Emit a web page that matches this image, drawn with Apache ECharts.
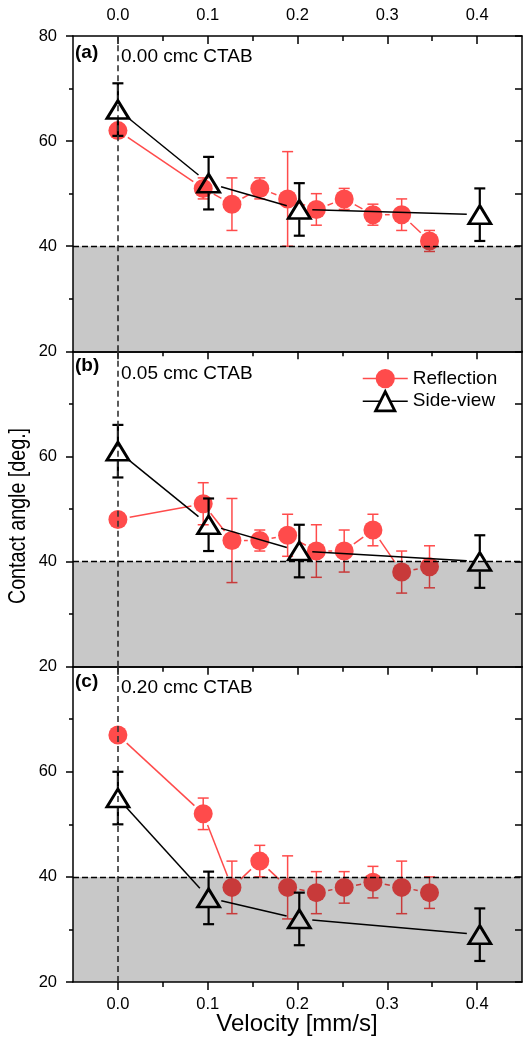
<!DOCTYPE html>
<html><head><meta charset="utf-8">
<script src="https://cdn.jsdelivr.net/npm/echarts@6/dist/echarts.min.js"></script>
<style>html,body{margin:0;padding:0;background:#fff}#c{width:524px;height:1037px}</style>
</head><body><div id="c"></div><script>
// ---- data ----
const panelLabels = ['(a)', '(b)', '(c)'];
const panelTitles = ['0.00 cmc CTAB', '0.05 cmc CTAB', '0.20 cmc CTAB'];
const xTickValues = [0.0, 0.1, 0.2, 0.3, 0.4];
const xMinorTickValues = [0.05, 0.15, 0.25, 0.35];
const xTitle = 'Velocity [mm/s]';
const yTitle = 'Contact angle [deg.]';
const thresholdAngle = 40;
const shadedBand = [20, 40];

const velocityReflection = [0, 0.095, 0.127, 0.158, 0.189, 0.221, 0.252, 0.284, 0.316, 0.347];
const velocitySideView = [0, 0.101, 0.202, 0.403];

const reflectionA = [62, 51, 48, 51, 49, 47, 49, 46, 46, 41];
const reflectionErrA = [0, 2, 5, 2, 9, 3, 2, 2, 3, 2];
const sideViewA = [66, 52, 47, 46];
const sideViewErrA = [5, 5, 5, 5];

const reflectionB = [48, 51, 44, 44, 45, 42, 42, 46, 38, 39];
const reflectionErrB = [0, 4, 8, 2, 4, 5, 4, 3, 4, 4];
const sideViewB = [61, 47, 42, 40];
const sideViewErrB = [5, 5, 5, 5];

const reflectionC = [67, 52, 38, 43, 38, 37, 38, 39, 38, 37];
const reflectionErrC = [0, 3, 5, 3, 6, 4, 3, 3, 5, 3];
const sideViewC = [55, 36, 32, 29];
const sideViewErrC = [5, 5, 5, 5];

const reflectionPanels = [reflectionA, reflectionB, reflectionC];
const reflectionErrPanels = [reflectionErrA, reflectionErrB, reflectionErrC];
const sideViewPanels = [sideViewA, sideViewB, sideViewC];
const sideViewErrPanels = [sideViewErrA, sideViewErrB, sideViewErrC];

// ---- layout / style ----
const RED = '#ff4b4b';
const FONT = '"Liberation Sans", Arial, sans-serif';
const gridLeft = 73, gridWidth = 449, gridTop0 = 36, gridH = 315.33;
const labelYs = [[52.5, 56.7], [365.6, 373.7], [681.7, 687.5]];

function zip3(xs, ys, es) { return xs.map((x, k) => [x, ys[k], es[k]]); }

function errRender(color, lw, capHalf, gapHalf) {
  return function (params, api) {
    const x = api.value(0), y = api.value(1), e = api.value(2);
    const kids = [];
    if (e) {
      const c = api.coord([x, y]);
      const hi = api.coord([x, y + e]);
      const lo = api.coord([x, y - e]);
      const st = { stroke: color, lineWidth: lw, fill: null };
      if (c[1] - gapHalf > hi[1]) kids.push({ type: 'line', shape: { x1: c[0], y1: hi[1], x2: c[0], y2: c[1] - gapHalf }, style: st });
      if (c[1] + gapHalf < lo[1]) kids.push({ type: 'line', shape: { x1: c[0], y1: c[1] + gapHalf, x2: c[0], y2: lo[1] }, style: st });
      kids.push({ type: 'line', shape: { x1: c[0] - capHalf, y1: hi[1], x2: c[0] + capHalf, y2: hi[1] }, style: st });
      kids.push({ type: 'line', shape: { x1: c[0] - capHalf, y1: lo[1], x2: c[0] + capHalf, y2: lo[1] }, style: st });
    }
    return { type: 'group', children: kids };
  };
}

// connecting segments with a gap around each symbol (Origin style)
function segRender(color, lw, gap) {
  return function (params, api) {
    const k = params.dataIndexInside;
    if (k >= params.dataInsideLength - 1) return { type: 'group', children: [] };
    const p0 = api.coord([api.value(0, k), api.value(1, k)]);
    const p1 = api.coord([api.value(0, k + 1), api.value(1, k + 1)]);
    const dx = p1[0] - p0[0], dy = p1[1] - p0[1];
    const len = Math.sqrt(dx * dx + dy * dy);
    if (len <= 2 * gap + 1) return { type: 'group', children: [] };
    const ux = dx / len, uy = dy / len;
    return { type: 'line', shape: { x1: p0[0] + ux * gap, y1: p0[1] + uy * gap, x2: p1[0] - ux * gap, y2: p1[1] - uy * gap },
      style: { stroke: color, lineWidth: lw, fill: null } };
  };
}

const grids = [], xAxes = [], yAxes = [], series = [];
const axisLineStyle = { color: '#000', width: 1.5 };

for (let i = 0; i < 3; i++) {
  grids.push({ left: gridLeft, width: gridWidth, top: gridTop0 + i * gridH, height: gridH });
  const isBottom = i === 2, isTop = i === 0;
  const base = { type: 'value', gridIndex: i, min: -0.05, max: 0.45, splitLine: { show: false }, axisLine: { show: true, onZero: false, lineStyle: axisLineStyle } };
  xAxes.push(Object.assign({}, base, {
    position: 'bottom',
    axisTick: { show: isBottom, inside: false, length: 8, customValues: xTickValues, lineStyle: axisLineStyle },
    axisLabel: { show: isBottom, customValues: xTickValues, formatter: v => v.toFixed(1), fontSize: 16.5, fontFamily: FONT, color: '#000', margin: 14 }
  }));
  xAxes.push(Object.assign({}, base, {
    position: 'bottom', axisLine: { show: false },
    axisTick: { show: isBottom, inside: false, length: 5, customValues: xMinorTickValues, lineStyle: axisLineStyle },
    axisLabel: { show: false }
  }));
  xAxes.push(Object.assign({}, base, {
    position: 'top',
    axisTick: { show: true, inside: true, length: 8, customValues: xTickValues, lineStyle: axisLineStyle },
    axisLabel: { show: isTop, customValues: xTickValues, formatter: v => v.toFixed(1), fontSize: 16.5, fontFamily: FONT, color: '#000', margin: 12 }
  }));
  xAxes.push(Object.assign({}, base, {
    position: 'top', axisLine: { show: false },
    axisTick: { show: true, inside: true, length: 5, customValues: xMinorTickValues, lineStyle: axisLineStyle },
    axisLabel: { show: false }
  }));
  yAxes.push({
    type: 'value', gridIndex: i, position: 'left', min: 20, max: 80, interval: 20,
    splitLine: { show: false },
    axisLine: { show: true, onZero: false, lineStyle: axisLineStyle },
    axisTick: { show: true, inside: false, length: 7, lineStyle: axisLineStyle },
    minorTick: { show: true, splitNumber: 2, length: 4, lineStyle: axisLineStyle },
    axisLabel: { fontSize: 16.5, fontFamily: FONT, color: '#000', margin: 16, showMaxLabel: i === 0 }
  });
  yAxes.push({
    type: 'value', gridIndex: i, position: 'right', min: 20, max: 80, interval: 10,
    splitLine: { show: false },
    axisLine: { show: true, onZero: false, lineStyle: axisLineStyle },
    axisTick: { show: true, inside: true, length: 7, lineStyle: axisLineStyle },
    axisLabel: { show: false }
  });

  const xi = i * 4, yi = i * 2;
  const reflData = zip3(velocityReflection, reflectionPanels[i], reflectionErrPanels[i]);
  const sideData = zip3(velocitySideView, sideViewPanels[i], sideViewErrPanels[i]);
  series.push({
    type: 'line', xAxisIndex: xi, yAxisIndex: yi, data: [], silent: true, z: 1,
    markLine: {
      silent: true, symbol: ['none', 'none'], label: { show: false }, animation: false,
      data: [
        { yAxis: thresholdAngle, lineStyle: { color: '#000', width: 1.4, type: [6, 3] } },
        { xAxis: 0, lineStyle: { color: '#333', width: 1.6, type: [6, 4] } }
      ]
    }
  });
  series.push({
    type: 'custom', xAxisIndex: xi, yAxisIndex: yi, z: 2, silent: true,
    renderItem: segRender(RED, 1.5, 12), encode: { x: 0, y: 1 }, data: reflData
  });
  series.push({
    type: 'custom', xAxisIndex: xi, yAxisIndex: yi, z: 2, silent: true,
    renderItem: errRender(RED, 1.5, 5.5, 0), encode: { x: 0, y: 1 }, data: reflData
  });
  series.push({
    name: 'Reflection', type: 'line', xAxisIndex: xi, yAxisIndex: yi, z: 3,
    symbol: 'circle', symbolSize: 19, animation: false,
    itemStyle: { color: RED },
    lineStyle: { color: RED, width: 0, opacity: 0 },
    data: velocityReflection.map((x, k) => [x, reflectionPanels[i][k]])
  });
  series.push({
    type: 'custom', xAxisIndex: xi, yAxisIndex: yi, z: 4, silent: true,
    renderItem: segRender('#000', 1.5, 13), encode: { x: 0, y: 1 }, data: sideData
  });
  series.push({
    type: 'custom', xAxisIndex: xi, yAxisIndex: yi, z: 4, silent: true,
    renderItem: errRender('#000', 2.2, 5.5, 10), encode: { x: 0, y: 1 }, data: sideData
  });
  series.push({
    name: 'Side-view', type: 'line', xAxisIndex: xi, yAxisIndex: yi, z: 5,
    symbol: 'triangle', symbolSize: [22, 18], animation: false,
    itemStyle: { color: 'rgba(255,255,255,0)', borderColor: '#000', borderWidth: 2.8 },
    lineStyle: { color: '#000', width: 0, opacity: 0 },
    data: velocitySideView.map((x, k) => [x, sideViewPanels[i][k]])
  });
  series.push({
    type: 'line', xAxisIndex: xi, yAxisIndex: yi, data: [], silent: true, z: 10,
    markArea: {
      silent: true, z: 10, animation: false,
      itemStyle: { color: 'rgba(0,0,0,0.216)' },
      data: [[{ yAxis: shadedBand[0] }, { yAxis: shadedBand[1] }]]
    }
  });
}

const graphics = [];
for (let i = 0; i < 3; i++) {
  graphics.push({ type: 'text', x: 75, y: labelYs[i][0], z: 20,
    style: { text: panelLabels[i], font: 'bold 19px ' + FONT, fill: '#000', textVerticalAlign: 'middle', verticalAlign: 'middle' } });
  graphics.push({ type: 'text', x: 121, y: labelYs[i][1], z: 20,
    style: { text: panelTitles[i], font: '19px ' + FONT, fill: '#000', textVerticalAlign: 'middle', verticalAlign: 'middle' } });
}
graphics.push({ type: 'text', x: 18, y: 516, rotation: Math.PI / 2, scaleX: 0.82, z: 20,
  style: { text: yTitle, font: '24px ' + FONT, fill: '#000',
    textAlign: 'center', align: 'center', textVerticalAlign: 'middle', verticalAlign: 'middle' } });
graphics.push({ type: 'text', x: 297, y: 1024, z: 20,
  style: { text: xTitle, font: '24px ' + FONT, fill: '#000',
    textAlign: 'center', align: 'center', textVerticalAlign: 'middle', verticalAlign: 'middle' } });

const chart = echarts.init(document.getElementById('c'), null, { renderer: 'canvas' });
chart.setOption({
  animation: false,
  backgroundColor: '#fff',
  grid: grids,
  xAxis: xAxes,
  yAxis: yAxes,
  legend: {
    orient: 'vertical', left: 357, top: 364, itemWidth: 45, itemHeight: 24, itemGap: 2,
    selectedMode: false,
    textStyle: { fontSize: 19, fontFamily: FONT, color: '#000' },
    data: [
      { name: 'Reflection', lineStyle: { color: RED, width: 1.5, opacity: 1 } },
      { name: 'Side-view', lineStyle: { color: '#000', width: 1.5, opacity: 1 },
        itemStyle: { color: '#fff', borderColor: '#000', borderWidth: 2.8 } }
    ]
  },
  series: series,
  graphic: graphics
});
</script></body></html>
